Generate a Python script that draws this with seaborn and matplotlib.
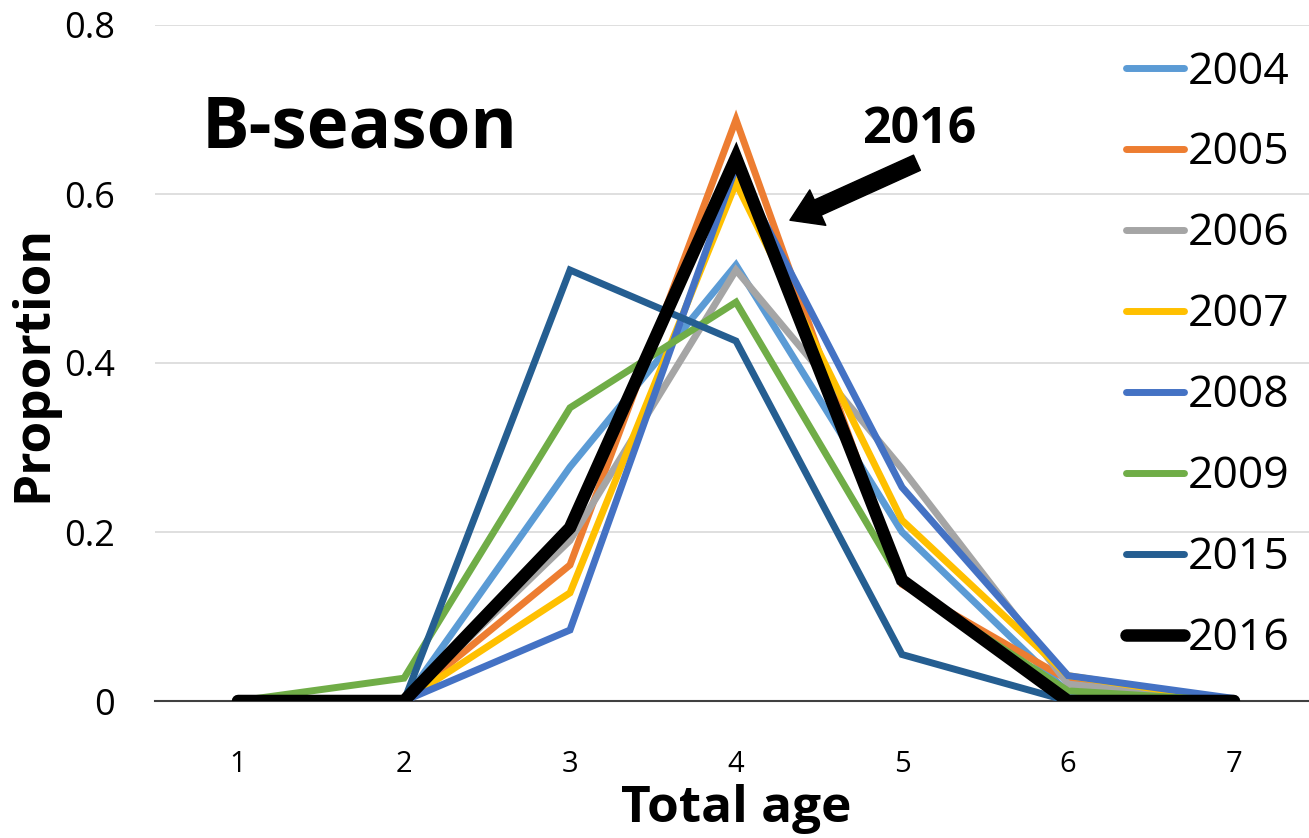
import matplotlib
matplotlib.use("Agg")
import matplotlib.pyplot as plt
import seaborn as sns
import pandas as pd

# ---- data ----
ages = [1, 2, 3, 4, 5, 6, 7]
years = ["2004", "2005", "2006", "2007", "2008", "2009", "2015", "2016"]
p2004 = [0, 0, 0.277, 0.516, 0.200, 0.010, 0]
p2005 = [0, 0, 0.161, 0.688, 0.138, 0.025, 0]
p2006 = [0, 0, 0.190, 0.510, 0.275, 0.020, 0]
p2007 = [0, 0, 0.128, 0.613, 0.214, 0.030, 0]
p2008 = [0, 0, 0.084, 0.632, 0.253, 0.030, 0.003]
p2009 = [0, 0.027, 0.347, 0.472, 0.140, 0.012, 0]
p2015 = [0, 0, 0.510, 0.426, 0.055, 0, 0]
p2016 = [0, 0, 0.205, 0.643, 0.143, 0, 0]
series = [p2004, p2005, p2006, p2007, p2008, p2009, p2015, p2016]
colors = ["#5B9BD5", "#ED7D31", "#A5A5A5", "#FFC000", "#4472C4", "#70AD47", "#255E91", "#000000"]
yticks = [0, 0.2, 0.4, 0.6, 0.8]
ytick_labels = ["0", "0.2", "0.4", "0.6", "0.8"]
xtick_labels = ["1", "2", "3", "4", "5", "6", "7"]

sns.set_theme(style="white")
plt.rcParams["font.family"] = ["Open Sans", "DejaVu Sans"]
plt.rcParams["text.color"] = "black"
plt.rcParams["axes.labelcolor"] = "black"
plt.rcParams["xtick.color"] = "black"
plt.rcParams["ytick.color"] = "black"

W, H = 1309, 838
fig = plt.figure(figsize=(W / 100, H / 100), dpi=100)
ax = fig.add_axes([155 / W, (H - 701) / H, (1317 - 155) / W, (701 - 25) / H])

for yr, vals, c in zip(years, series, colors):
    df = pd.DataFrame({"age": ages, "prop": vals})
    lw = 9 if yr == "2016" else 5
    sns.lineplot(data=df, x="age", y="prop", ax=ax, color=c, lw=lw, label=yr,
                 solid_joinstyle="miter", solid_capstyle="round",
                 zorder=5 if yr == "2016" else 3)

ax.set_xlim(0.5, 7.5)
ax.set_ylim(0, 0.8)
ax.set_yticks(yticks)
ax.set_yticklabels(ytick_labels, fontsize=26, color="black")
ax.set_xticks(ages)
ax.set_xticklabels(xtick_labels, fontsize=21, color="black")
ax.tick_params(axis="y", length=0, pad=29)
ax.tick_params(axis="x", length=0, pad=35)
ax.yaxis.grid(True, color="#d9d9d9", lw=1.2)
ax.set_axisbelow(True)
for s in ["left", "right", "top"]:
    ax.spines[s].set_visible(False)
ax.spines["bottom"].set_color("#404040")
ax.spines["bottom"].set_linewidth(1.5)

ax.set_xlabel("Total age", fontsize=37, fontweight="bold", labelpad=4, color="black")
ax.set_ylabel("Proportion", fontsize=37, fontweight="bold", labelpad=4, color="black")

fig.text(202 / W, 1 - 148 / H, "B-season", fontsize=51, fontweight="bold",
         va="baseline", ha="left", color="black")
fig.text(862 / W, 1 - 143 / H, "2016", fontsize=36, fontweight="bold",
         va="baseline", ha="left", color="black")

ax.annotate("", xy=(4.325, 0.569), xytext=(5.09, 0.637),
            arrowprops=dict(facecolor="black", edgecolor="black", width=12,
                            headwidth=28, headlength=22, shrink=0))

if ax.legend_:
    ax.legend_.remove()
handles, labels = ax.get_legend_handles_labels()
leg = fig.legend(handles, labels, loc="upper left", bbox_to_anchor=(1126 / W, 1 - 50 / H),
                 frameon=False, fontsize=32, handlelength=1.3, handletextpad=0.1,
                 labelspacing=0.82, borderpad=0, borderaxespad=0)
for t in leg.get_texts():
    t.set_color("black")
for h in leg.get_lines():
    h.set_solid_capstyle("round")

fig.savefig("out.png", dpi=100)
